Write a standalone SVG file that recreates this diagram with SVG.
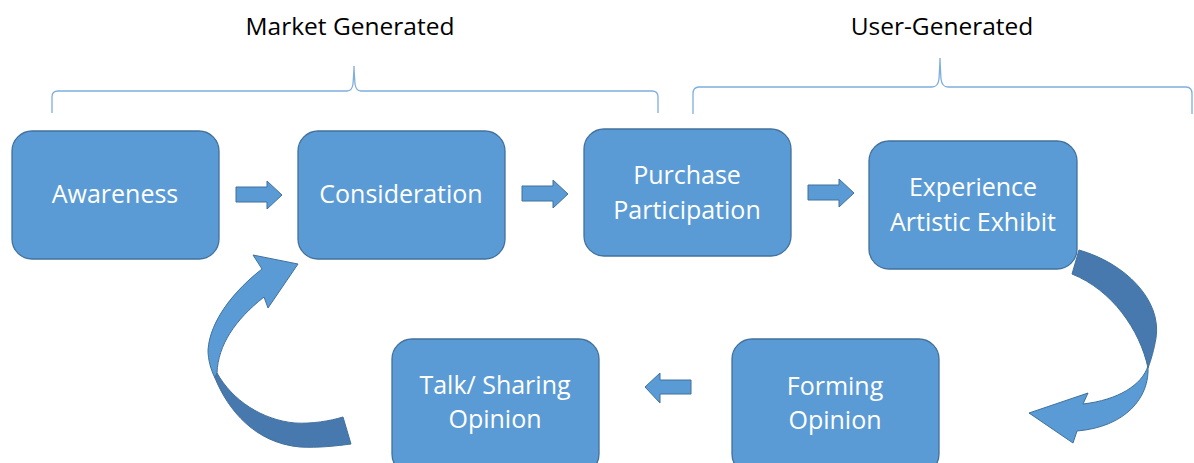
<svg xmlns="http://www.w3.org/2000/svg" width="1194" height="463" viewBox="0 0 1194 463">
<style>
.box{fill:#5B9BD5;stroke:#41719C;stroke-width:1.3}
.lbl{font-family:"Open Sans","Noto Sans",sans-serif;font-size:25px;fill:#FFFFFF;text-anchor:middle}
.ttl{font-family:"Open Sans","Noto Sans",sans-serif;font-size:24.5px;fill:#000000;text-anchor:middle}
.brace{fill:none;stroke:#7FAEDD;stroke-width:1.3}
.arr{fill:#5B9BD5;stroke:#41719C;stroke-width:1}
.dark{fill:#4779AE;stroke:#41719C;stroke-width:1}
</style>
<rect width="1194" height="463" fill="#FFFFFF"/>
<g id="titles">
<text class="ttl" x="350" y="35">Market Generated</text>
<text class="ttl" x="942" y="35">User-Generated</text>
</g>
<g id="braces">
<path class="brace" d="M52,113 L52,97 Q52,91 58,91 L347,91 Q352,91 353,84 Q354,70 354,66 Q354,70 355,84 Q356,91 361,91 L652,91 Q658,91 658,97 L658,113"/>
<path class="brace" d="M693,114 L693,94 Q693,87 699,87 L932,87 Q938,87 939,79 Q940,62 940,58 Q940,62 941,79 Q942,87 948,87 L1186,87 Q1192,87 1192,94 L1192,114"/>
</g>
<g id="awareness"><rect class="box" x="12" y="131" width="207" height="128" rx="20"/><text class="lbl" x="115" y="203">Awareness</text></g>
<g id="consideration"><rect class="box" x="298" y="131" width="207" height="128" rx="20"/><text class="lbl" x="401" y="203">Consideration</text></g>
<g id="purchase"><rect class="box" x="584" y="129" width="207" height="127" rx="20"/><text class="lbl" x="687" y="184">Purchase</text><text class="lbl" x="687" y="219">Participation</text></g>
<g id="experience"><rect class="box" x="869" y="141" width="208" height="128" rx="20"/><text class="lbl" x="973" y="196">Experience</text><text class="lbl" x="973" y="231">Artistic Exhibit</text></g>
<g id="talk"><rect class="box" x="392" y="339" width="207" height="135" rx="20"/><text class="lbl" x="495" y="394">Talk/ Sharing</text><text class="lbl" x="495" y="428">Opinion</text></g>
<g id="forming"><rect class="box" x="732" y="339" width="207" height="135" rx="20"/><text class="lbl" x="835" y="395">Forming</text><text class="lbl" x="835" y="429">Opinion</text></g>
<g id="connectors">
<path class="arr" d="M236,187 L267,187 L267,181 L282,195 L267,209 L267,202 L236,202 Z"/>
<path class="arr" d="M522,186 L553,186 L553,180 L568,194 L553,208 L553,201 L522,201 Z"/>
<path class="arr" d="M808,185 L839,185 L839,179 L854,193 L839,207 L839,200 L808,200 Z"/>
<path class="arr" d="M691,380 L660,380 L660,373 L645,387 L660,403 L660,394 L691,394 Z"/>
<path class="dark" d="M1079,250 C1125,263 1162,300 1156,338 C1154,350 1151,360 1148,368 C1140,330 1112,290 1072,274 Z"/>
<path class="arr" d="M1148,366 C1150,398 1125,427 1077,431 L1073,443 L1029,413 L1088,393 L1083,404 C1118,400 1142,385 1148,366 Z"/>
<path class="arr" d="M298,264 L253,255 L262,269 C235,290 210,320 208,350 C208,360 211,370 215,378 L217,373 C218,345 235,320 264,297 L268,308 Z"/>
<path class="dark" d="M215,378 C228,410 255,443 300,447 C318,448 336,446 351,444 L343,417 C330,421 312,424 295,423 C262,420 232,400 217,373 Z"/>
</g>
</svg>
